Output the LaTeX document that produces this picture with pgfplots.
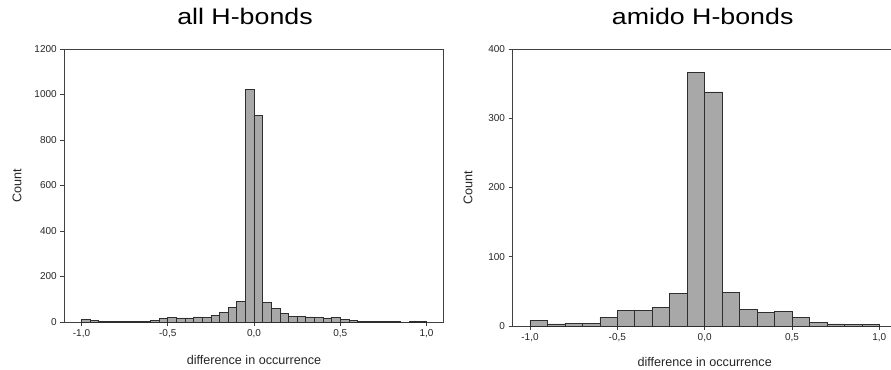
\documentclass[border=0pt]{standalone}
\usepackage{pgfplots}
\pgfplotsset{compat=1.18}
\usepackage{fontspec}
\setmainfont{Liberation Sans}
\newfontfamily\titlefont{Liberation Sans}[FakeStretch=1.19]
\definecolor{barfill}{HTML}{A8A8A8}
\definecolor{baredge}{HTML}{2E2E2E}
\definecolor{axcol}{HTML}{404040}
\pgfplotstableread{
x y
-1.00 12
-0.95 6
-0.90 4
-0.85 2
-0.80 2
-0.75 4
-0.70 2
-0.65 2
-0.60 8
-0.55 14
-0.50 20
-0.45 18
-0.40 18
-0.35 22
-0.30 19
-0.25 30
-0.20 42
-0.15 63
-0.10 91
-0.05 1023
0.00 909
0.05 87
0.10 59
0.15 37
0.20 26
0.25 23
0.30 22
0.35 20
0.40 18
0.45 20
0.50 10
0.55 8
0.60 3
0.65 2
0.70 2
0.75 2
0.80 1
0.85 0
0.90 4
0.95 4
1.00 4
}\allbonds
\pgfplotstableread{
x y
-1.0 8
-0.9 3
-0.8 4
-0.7 4
-0.6 12
-0.5 22
-0.4 22
-0.3 27
-0.2 47
-0.1 366
0.0 338
0.1 49
0.2 24
0.3 20
0.4 21
0.5 13
0.6 5
0.7 3
0.8 2
0.9 2
1.0 2
}\amidobonds
\pgfplotsset{
  hist/.style={
    scale only axis,
    anchor=south west,
    axis line style={axcol, line width=0.8pt},
    tick style={axcol, line width=0.8pt},
    tick align=outside,
    tick pos=left,
    major tick length=4bp,
    xmin=-1.1, xmax=1.1, ymin=0,
    xtick={-1,-0.5,0,0.5,1},
    xticklabels={{-1,0},{-0,5},{0,0},{0,5},{1,0}},
    ticklabel style={font=\fontsize{10bp}{12bp}\selectfont, text=black!85},
    /pgf/number format/assume math mode=true,
    label style={font=\fontsize{12.6bp}{15bp}\selectfont, text=black!85},
    xlabel={difference in occurrence},
    ylabel={Count},
    title style={font=\titlefont\fontsize{22.5bp}{27bp}\selectfont, at={(0.5,1)}, anchor=base, yshift=19bp},
  }
}
\begin{document}
\begin{tikzpicture}[x=1bp,y=1bp]
\useasboundingbox (0,0) rectangle (891,369);
\begin{axis}[hist,
  at={(64.25bp,47bp)}, width=379.5bp, height=273bp,
  ymax=1200, ytick={0,200,400,600,800,1000,1200},
  yticklabels={0,200,400,600,800,1000,1200},
  title={all H-bonds},
  title style={xshift=-9bp},
  xlabel style={at={(0.5,0)}, anchor=center, yshift=-38bp},
  ylabel style={at={(-0.1245,0.5)}, anchor=center},
]
\addplot[ybar interval, fill=barfill, draw=baredge, line width=0.7pt] table[x=x,y=y] {\allbonds};
\end{axis}
\begin{axis}[hist,
  at={(512.5bp,43bp)}, width=384.3bp, height=277bp,
  ymax=400, ytick={0,100,200,300,400},
  yticklabels={0,100,200,300,400},
  title={amido H-bonds},
  title style={xshift=-2bp},
  xlabel style={at={(0.5,0)}, anchor=center, yshift=-36bp},
  ylabel style={at={(-0.1158,0.5)}, anchor=center},
]
\addplot[ybar interval, fill=barfill, draw=baredge, line width=0.7pt] table[x=x,y=y] {\amidobonds};
\end{axis}
\end{tikzpicture}
\end{document}
